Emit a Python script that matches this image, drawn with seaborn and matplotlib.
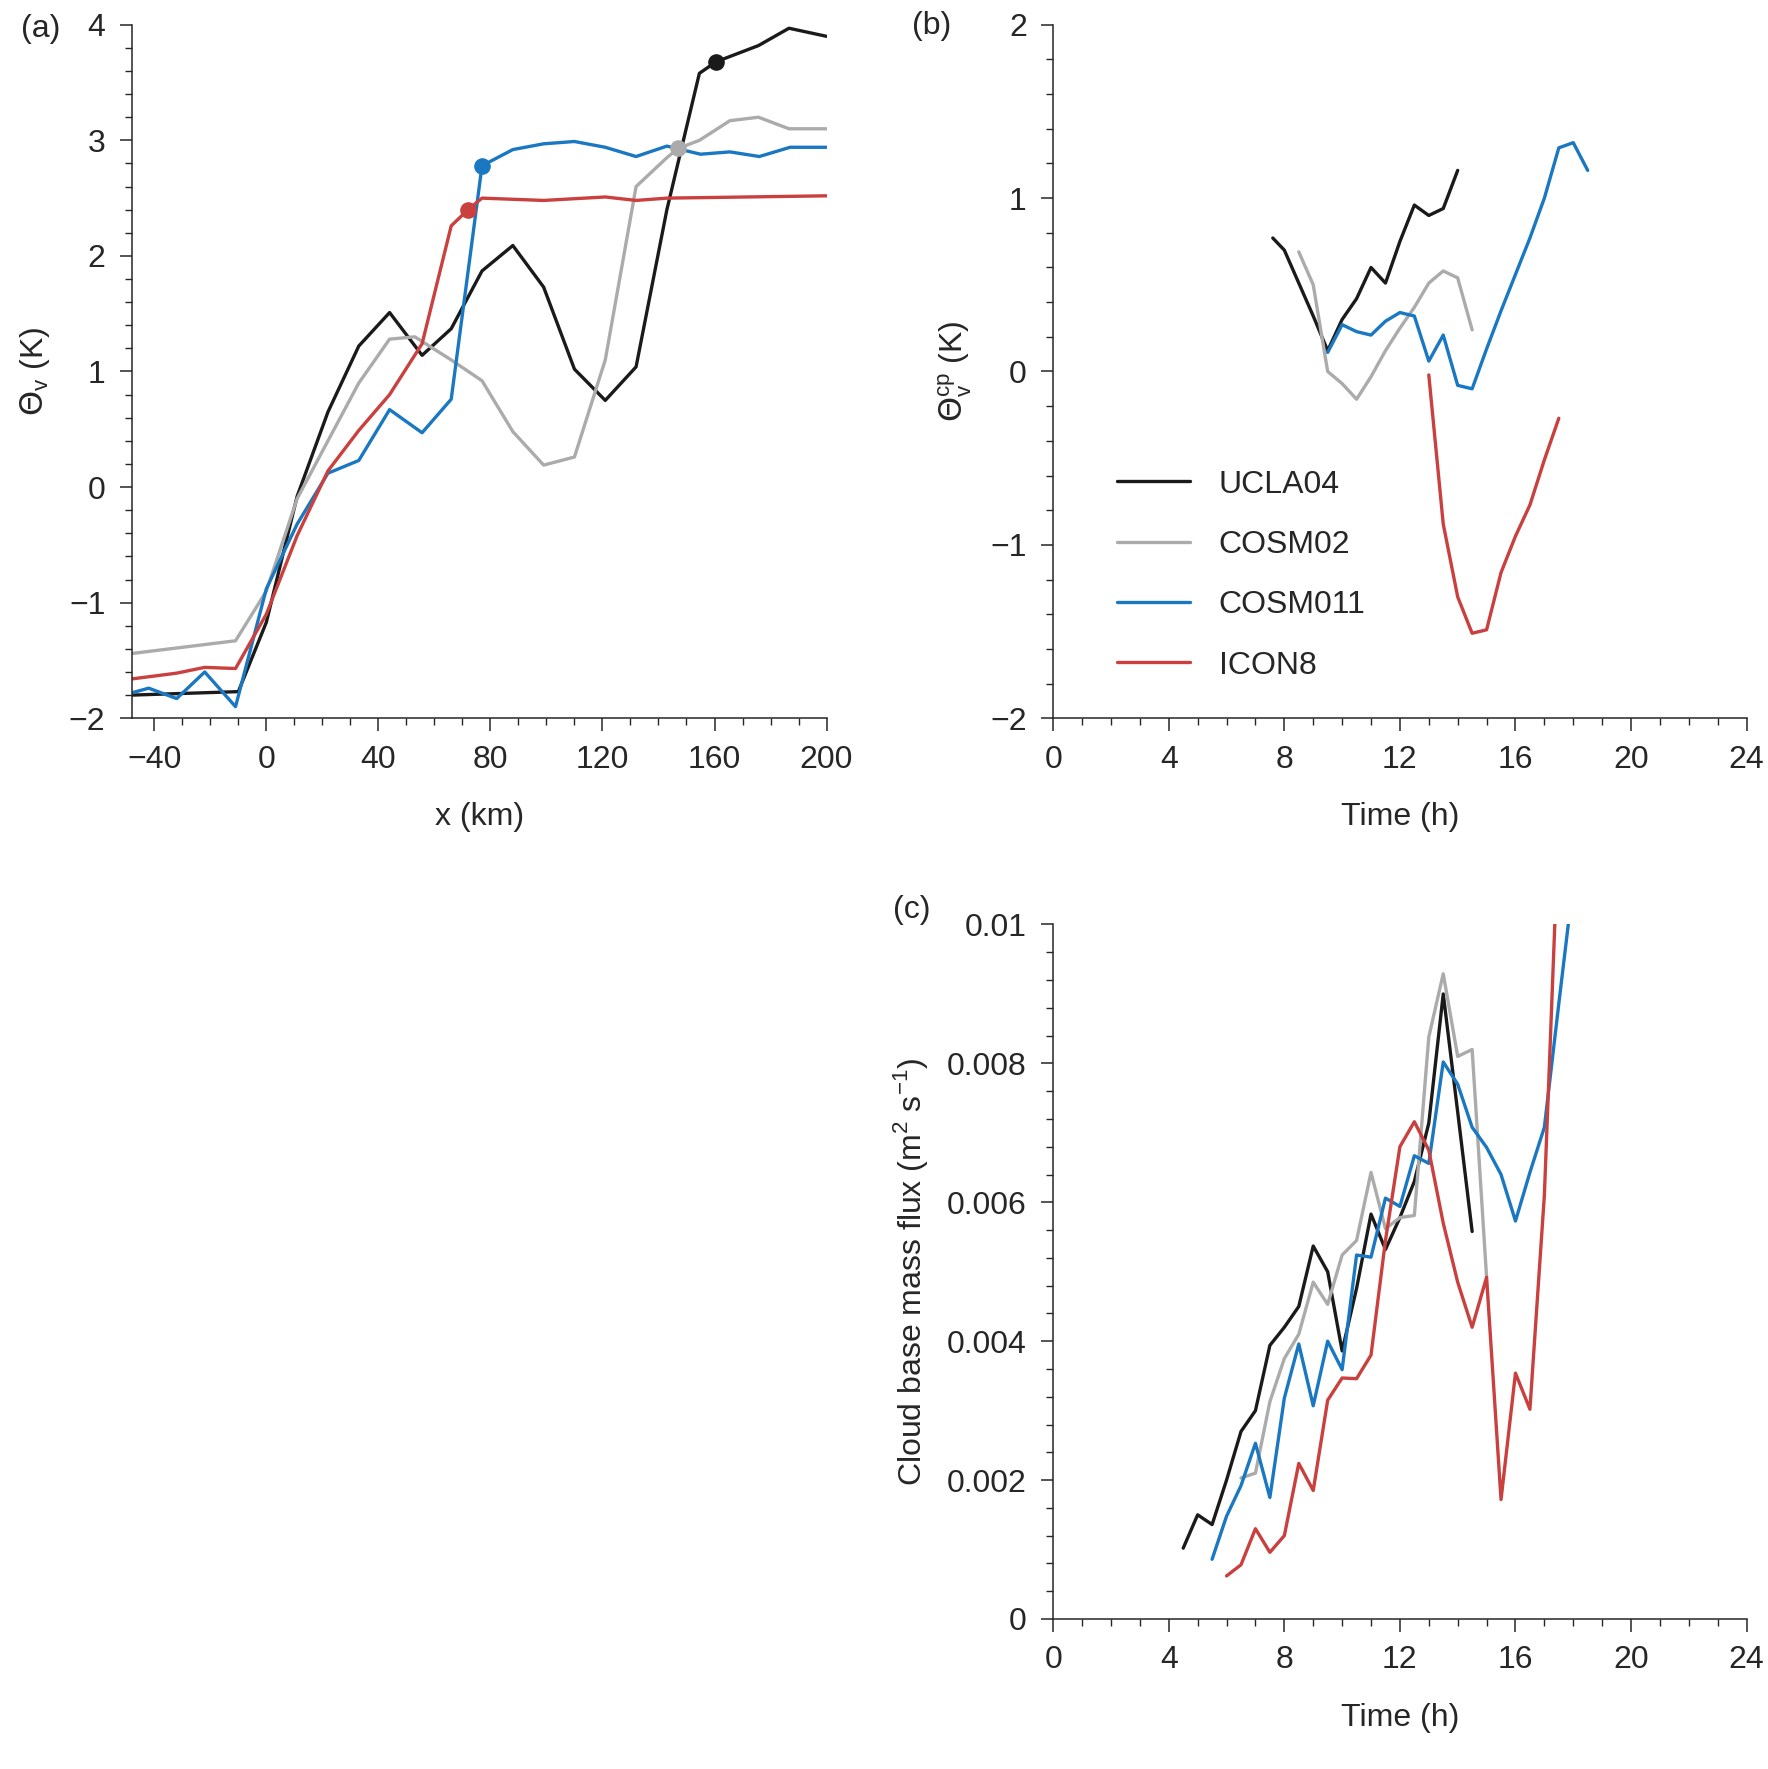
import numpy as np
import pandas as pd
import matplotlib
matplotlib.use("Agg")
import matplotlib.pyplot as plt
import seaborn as sns
from matplotlib.ticker import MultipleLocator, FuncFormatter

sns.set_style("ticks")
plt.rcParams['font.family'] = ['Liberation Sans', 'DejaVu Sans']
plt.rcParams['mathtext.fontset'] = 'dejavusans'

models = ["UCLA04", "COSM02", "COSM011", "ICON8"]
colors = {"UCLA04": "#1a1a1a", "COSM02": "#ababab", "COSM011": "#1a78c2", "ICON8": "#c9403e"}

# panel (a): theta_v vs x (km)
a_x = {
    "UCLA04": [-48, -10, 0, 11, 22, 33, 44, 55.6, 66, 77, 88, 99, 110, 121, 132, 143, 154.6, 160.6, 175.7, 186.6, 200],
    "COSM02": [-48, -11, 0, 11, 22, 33, 44, 53, 66, 77, 88, 99, 110, 121, 132, 143, 147, 154.6, 165.5, 175.7, 186.6, 200],
    "COSM011": [-48, -42, -32, -22, -11, 0, 11, 22, 33, 44, 55.6, 66, 77, 88, 99, 110, 121, 132, 143, 155, 165.5, 176, 187, 200],
    "ICON8": [-48, -32, -22, -11, 0, 11, 22, 33, 44, 55.6, 66, 72, 77, 99, 121, 132, 143, 200],
}
a_y = {
    "UCLA04": [-1.8, -1.77, -1.17, -0.08, 0.65, 1.22, 1.51, 1.14, 1.37, 1.87, 2.09, 1.73, 1.02, 0.75, 1.04, 2.4, 3.58, 3.68, 3.82, 3.97, 3.9],
    "COSM02": [-1.44, -1.33, -0.9, -0.1, 0.4, 0.9, 1.28, 1.3, 1.1, 0.92, 0.48, 0.19, 0.26, 1.1, 2.6, 2.85, 2.93, 3.0, 3.17, 3.2, 3.1, 3.1],
    "COSM011": [-1.78, -1.74, -1.83, -1.6, -1.9, -0.88, -0.32, 0.12, 0.23, 0.67, 0.47, 0.76, 2.78, 2.92, 2.97, 2.99, 2.94, 2.86, 2.95, 2.88, 2.9, 2.86, 2.94, 2.94],
    "ICON8": [-1.66, -1.61, -1.56, -1.57, -1.1, -0.42, 0.14, 0.49, 0.8, 1.24, 2.26, 2.4, 2.5, 2.48, 2.51, 2.48, 2.5, 2.52],
}
dot_x = {"UCLA04": 160.6, "COSM02": 147, "COSM011": 77, "ICON8": 72}
dot_y = {"UCLA04": 3.68, "COSM02": 2.93, "COSM011": 2.78, "ICON8": 2.4}

# panel (b): cold-pool theta_v vs time (h)
b_t = {
    "UCLA04": [7.6, 8, 8.5, 9, 9.5, 10, 10.5, 11, 11.5, 12, 12.5, 13, 13.5, 14],
    "COSM02": [8.5, 9, 9.5, 10, 10.5, 11, 11.5, 12, 12.5, 13, 13.5, 14, 14.5],
    "COSM011": [9.5, 10, 10.5, 11, 11.5, 12, 12.5, 13, 13.5, 14, 14.5, 15, 15.5, 16, 16.5, 17, 17.5, 18, 18.5],
    "ICON8": [13, 13.5, 14, 14.5, 15, 15.5, 16, 16.5, 17, 17.5],
}
b_y = {
    "UCLA04": [0.77, 0.7, 0.51, 0.32, 0.12, 0.3, 0.42, 0.6, 0.51, 0.75, 0.96, 0.9, 0.94, 1.16],
    "COSM02": [0.69, 0.5, 0.0, -0.07, -0.16, -0.03, 0.12, 0.25, 0.37, 0.51, 0.58, 0.54, 0.24],
    "COSM011": [0.11, 0.27, 0.23, 0.21, 0.29, 0.34, 0.32, 0.06, 0.21, -0.08, -0.1, 0.13, 0.35, 0.56, 0.77, 1.0, 1.29, 1.32, 1.16],
    "ICON8": [-0.02, -0.88, -1.3, -1.51, -1.49, -1.16, -0.95, -0.77, -0.51, -0.27],
}

# panel (c): cloud base mass flux vs time (h)
c_t = {
    "UCLA04": [4.5, 5, 5.5, 6, 6.5, 7, 7.5, 8, 8.5, 9, 9.5, 10, 10.5, 11, 11.5, 12, 12.5, 13, 13.5, 14, 14.5],
    "COSM02": [6.5, 7, 7.5, 8, 8.5, 9, 9.5, 10, 10.5, 11, 11.5, 12, 12.5, 13, 13.5, 14, 14.5, 15],
    "COSM011": [5.5, 6, 6.5, 7, 7.5, 8, 8.5, 9, 9.5, 10, 10.5, 11, 11.5, 12, 12.5, 13, 13.5, 14, 14.5, 15, 15.5, 16, 16.5, 17, 17.5, 18],
    "ICON8": [6, 6.5, 7, 7.5, 8, 8.5, 9, 9.5, 10, 10.5, 11, 11.5, 12, 12.5, 13, 13.5, 14, 14.5, 15, 15.5, 16, 16.5, 17, 17.5],
}
c_y = {
    "UCLA04": [0.00102, 0.0015, 0.00136, 0.002, 0.0027, 0.003, 0.00394, 0.0042, 0.0045, 0.00537, 0.005, 0.00386, 0.00476, 0.00583, 0.00532, 0.00578, 0.0063, 0.00714, 0.0090, 0.0073, 0.00558],
    "COSM02": [0.00203, 0.0021, 0.00313, 0.00375, 0.0041, 0.00485, 0.00453, 0.00524, 0.00545, 0.00643, 0.00562, 0.00578, 0.00581, 0.00838, 0.00929, 0.0081, 0.0082, 0.00492],
    "COSM011": [0.00086, 0.00148, 0.00192, 0.00253, 0.00175, 0.00318, 0.00396, 0.00307, 0.004, 0.00359, 0.00524, 0.00521, 0.00606, 0.00594, 0.00667, 0.00656, 0.00802, 0.0077, 0.00708, 0.00679, 0.0064, 0.00573, 0.00643, 0.00708, 0.00886, 0.0106],
    "ICON8": [0.00062, 0.00078, 0.0013, 0.00096, 0.0012, 0.00224, 0.00185, 0.00315, 0.00347, 0.00346, 0.0038, 0.00545, 0.0068, 0.00716, 0.00675, 0.0057, 0.00485, 0.0042, 0.00492, 0.00172, 0.00354, 0.00302, 0.0061, 0.0115],
}

fs = 23
lw = 2.4
fig = plt.figure(figsize=(17.68, 17.69), dpi=100)
axa = fig.add_axes([0.0746, 0.594, 0.3929, 0.392])
axb = fig.add_axes([0.5957, 0.594, 0.3922, 0.392])
axc = fig.add_axes([0.5957, 0.0848, 0.3922, 0.3926])


def style(ax):
    sns.despine(ax=ax)
    ax.tick_params(which="major", direction="out", length=9, width=1.1, labelsize=fs, pad=10)
    ax.tick_params(which="minor", direction="out", length=5, width=1.0)
    for s in ax.spines.values():
        s.set_linewidth(1.1)


for m in models:
    sns.lineplot(x=a_x[m], y=a_y[m], color=colors[m], lw=lw, ax=axa, sort=False)
    axa.scatter([dot_x[m]], [dot_y[m]], s=120, color=colors[m], zorder=5)
axa.set_xlim(-48, 200)
axa.set_ylim(-2, 4)
axa.xaxis.set_major_locator(MultipleLocator(40))
axa.xaxis.set_minor_locator(MultipleLocator(10))
axa.yaxis.set_major_locator(MultipleLocator(1))
axa.yaxis.set_minor_locator(MultipleLocator(0.2))
axa.set_xlabel("x (km)", fontsize=fs, labelpad=20)
axa.set_ylabel(r"$\Theta_\mathregular{v}$ (K)", fontsize=fs, labelpad=12)
style(axa)

for m in models:
    sns.lineplot(x=b_t[m], y=b_y[m], color=colors[m], lw=lw, ax=axb, sort=False, label=m)
axb.set_xlim(0, 24)
axb.set_ylim(-2, 2)
axb.xaxis.set_major_locator(MultipleLocator(4))
axb.xaxis.set_minor_locator(MultipleLocator(1))
axb.yaxis.set_major_locator(MultipleLocator(1))
axb.yaxis.set_minor_locator(MultipleLocator(0.2))
axb.set_xlabel("Time (h)", fontsize=fs, labelpad=20)
axb.set_ylabel(r"$\Theta_\mathregular{v}^\mathregular{cp}$ (K)", fontsize=fs, labelpad=12)
axb.legend(loc="upper left", bbox_to_anchor=(0.05, 0.4), frameon=False, fontsize=fs,
           handlelength=2.3, labelspacing=0.95, handletextpad=0.9)
style(axb)

for m in models:
    sns.lineplot(x=c_t[m], y=c_y[m], color=colors[m], lw=lw, ax=axc, sort=False)
axc.set_xlim(0, 24)
axc.set_ylim(0, 0.01)
axc.xaxis.set_major_locator(MultipleLocator(4))
axc.xaxis.set_minor_locator(MultipleLocator(1))
axc.yaxis.set_major_locator(MultipleLocator(0.002))
axc.yaxis.set_minor_locator(MultipleLocator(0.0004))
axc.yaxis.set_major_formatter(FuncFormatter(lambda v, p: "0" if abs(v) < 1e-12 else f"{v:g}"))
axc.set_xlabel("Time (h)", fontsize=fs, labelpad=20)
axc.set_ylabel(r"Cloud base mass flux (m$^\mathregular{2}$ s$^\mathregular{-1}$)", fontsize=fs, labelpad=12)
style(axc)

fig.text(0.012, 0.992, "(a)", fontsize=fs, va="top")
fig.text(0.516, 0.994, "(b)", fontsize=fs, va="top")
fig.text(0.505, 0.494, "(c)", fontsize=fs, va="top")

fig.savefig("out.png", dpi=100)
